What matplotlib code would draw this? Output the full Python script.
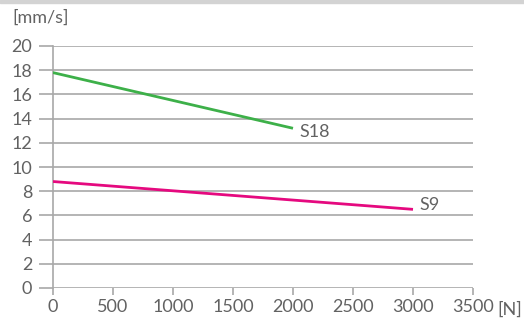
import matplotlib
matplotlib.use("Agg")
import matplotlib.pyplot as plt
from matplotlib.patches import Rectangle

# data
force_s18 = [0, 2000]
speed_s18 = [17.8, 13.2]
force_s9 = [0, 3000]
speed_s9 = [8.8, 6.5]
x_ticks = [0, 500, 1000, 1500, 2000, 2500, 3000, 3500]
y_ticks = [0, 2, 4, 6, 8, 10, 12, 14, 16, 18, 20]

text_col = "#626262"
grid_col = "#a8a8a8"
green = "#3db049"
magenta = "#e5097f"

plt.rcParams["font.family"] = ["Lato", "DejaVu Sans"]
fs = 13

fig = plt.figure(figsize=(5.24, 3.2), dpi=100)
fig.patches.append(Rectangle((0, 317 / 320), 1, 3 / 320, transform=fig.transFigure,
                             color="#d3d3d3", zorder=0))

ax = fig.add_axes([53 / 524, 32 / 320, 420 / 524, 242 / 320])
ax.plot(force_s18, speed_s18, color=green, lw=2, solid_capstyle="butt", zorder=3)
ax.plot(force_s9, speed_s9, color=magenta, lw=2, solid_capstyle="butt", zorder=3)

ax.text(force_s18[-1] + 50, speed_s18[-1] - 0.3, "S18", color=text_col, fontsize=fs,
        va="center", ha="left")
ax.text(force_s9[-1] + 50, speed_s9[-1] + 0.4, "S9", color=text_col, fontsize=fs,
        va="center", ha="left")

ax.set_xlim(0, 3500)
ax.set_ylim(0, 20)
ax.set_xticks(x_ticks)
ax.set_yticks(y_ticks)
ax.yaxis.grid(True, color=grid_col, lw=1.2)
ax.set_axisbelow(True)
for s in ["top", "right", "bottom"]:
    ax.spines[s].set_visible(False)
ax.spines["left"].set_color(grid_col)
ax.spines["left"].set_linewidth(1.2)
ax.tick_params(axis="y", length=10, width=1.2, color=grid_col, pad=5,
               labelsize=fs, labelcolor=text_col)
ax.tick_params(axis="x", length=5, width=1.2, color=grid_col, pad=3,
               labelsize=fs, labelcolor=text_col)

fig.text(12 / 524, 1 - 18 / 320, "[mm/s]", color=text_col, fontsize=fs,
         va="center", ha="left")
fig.text(497 / 524, 1 - 310 / 320, "[N]", color=text_col, fontsize=fs,
         va="center", ha="left")

fig.savefig("out.png", dpi=100)
